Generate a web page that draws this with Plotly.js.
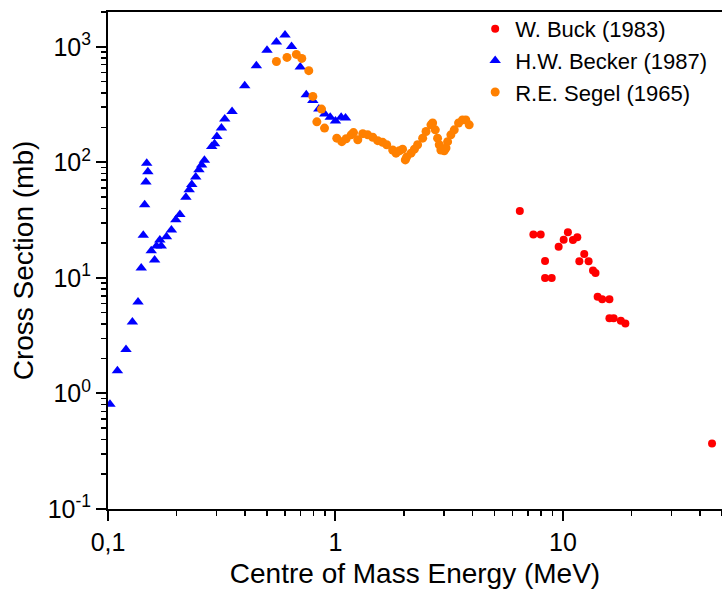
<!DOCTYPE html>
<html>
<head>
<meta charset="utf-8">
<script src="https://cdn.plot.ly/plotly-3.0.1.min.js"></script>
<style>html,body{margin:0;padding:0;background:#fff;}</style>
</head>
<body>
<div id="chart" style="width:722px;height:593px;"></div>
<script>
// W. Buck (1983)
const buckE = [6.46, 7.41, 7.98, 8.34, 8.34, 8.92, 9.57, 10.07, 10.51, 11.06, 11.56, 11.8, 12.4, 12.96, 13.55, 13.9, 14.2, 14.87, 16.0, 16.0, 16.7, 17.96, 18.8, 45.2];
const buckXS = [38.0, 23.7, 23.7, 14.0, 10.0, 10.0, 18.6, 21.4, 24.8, 21.3, 22.5, 13.9, 16.1, 13.9, 11.6, 11.0, 6.87, 6.53, 6.53, 4.47, 4.47, 4.26, 4.04, 0.369];

// H.W. Becker (1987)
const beckerE = [0.102, 0.110, 0.120, 0.128, 0.1355, 0.140, 0.1429, 0.1449, 0.1468, 0.148, 0.1497, 0.1549, 0.1603, 0.1634, 0.169, 0.1714, 0.1807, 0.190, 0.1987, 0.207, 0.220, 0.2274, 0.2335, 0.243, 0.251, 0.258, 0.2654, 0.2857, 0.294, 0.301, 0.3152, 0.326, 0.351, 0.399, 0.449, 0.500, 0.550, 0.600, 0.641, 0.700, 0.744, 0.795, 0.845, 0.897, 0.948, 1.0, 1.059, 1.107];
const beckerXS = [0.807, 1.57, 2.40, 4.15, 6.18, 12.2, 23.4, 43, 67.7, 98, 82.8, 17.2, 14.3, 18.9, 21.3, 18.9, 22.7, 26, 31.8, 35.3, 49.9, 57.8, 64.3, 74.5, 86.1, 94.6, 104, 137, 145, 167, 198, 237, 275, 460, 685, 931, 1101, 1265, 1007, 668, 385, 343, 289, 262, 246, 228, 246, 242];

// R.E. Segel (1965)
const segelE = [0.550, 0.612, 0.673, 0.711, 0.763, 0.795, 0.828, 0.868, 0.895, 1.013, 1.066, 1.114, 1.172, 1.2, 1.253, 1.318, 1.386, 1.458, 1.533, 1.612, 1.679, 1.784, 1.845, 1.909, 1.972, 2.027, 2.054, 2.148, 2.222, 2.296, 2.416, 2.50, 2.628, 2.673, 2.746, 2.810, 2.858, 2.905, 3.006, 3.06, 3.11, 3.215, 3.327, 3.475, 3.615, 3.74, 3.87];
const segelXS = [746, 809, 859, 793, 621, 372, 224, 289, 198, 162, 151, 160, 173, 181, 157, 177, 173, 165, 154, 149, 142, 128, 120, 126, 130, 105, 111, 120, 130, 142, 162, 185, 211, 219, 191, 162, 142, 128, 126, 133, 151, 173, 191, 219, 233, 233, 211];

// Axis ticks
const xTickVals = [0.1, 1, 10];
const xTickText = ['0,1', '1', '10'];
const yTickVals = [0.1, 1, 10, 100, 1000];
const yTickText = ['10<sup>-1</sup>', '10<sup>0</sup>', '10<sup>1</sup>', '10<sup>2</sup>', '10<sup>3</sup>'];

function minorTicks(lo, hi) {
  const out = [];
  for (let d = lo; d <= hi; d++) {
    for (let k = 2; k <= 9; k++) out.push(k * Math.pow(10, d));
  }
  return out;
}
const xMinor = minorTicks(-1, 1);
const yMinor = minorTicks(-1, 3);

const traces = [
  {x: buckE, y: buckXS, name: 'W. Buck (1983)', type: 'scatter', mode: 'markers',
   marker: {symbol: 'circle', size: 8, color: '#ff0000'}},
  {x: beckerE, y: beckerXS, name: 'H.W. Becker (1987)', type: 'scatter', mode: 'markers',
   marker: {symbol: 'triangle-up', size: 10, color: '#0000ff'}},
  {x: segelE, y: segelXS, name: 'R.E. Segel (1965)', type: 'scatter', mode: 'markers',
   marker: {symbol: 'circle', size: 9, color: '#ff8000'}}
];

const axisCommon = {
  type: 'log', showgrid: false, zeroline: false, showline: true,
  linecolor: '#000', linewidth: 2, ticks: 'outside', ticklen: 10, tickwidth: 2, tickcolor: '#000',
  tickmode: 'array', tickfont: {size: 25, color: '#000'}
};

const layout = {
  width: 722, height: 593,
  margin: {l: 108, r: 0, t: 12, b: 84},
  paper_bgcolor: '#fff', plot_bgcolor: '#fff',
  separators: ', ',
  font: {family: '"Liberation Sans", Arial, sans-serif', color: '#000'},
  showlegend: true,
  xaxis: Object.assign({}, axisCommon, {
    range: [-1, Math.log10(50)], tickvals: xTickVals, ticktext: xTickText, mirror: true,
    title: {text: 'Centre of Mass Energy (MeV)', font: {size: 28}, standoff: 8},
    minor: {tickmode: 'array', tickvals: xMinor, ticks: 'outside', ticklen: 5, tickwidth: 1.5, tickcolor: '#000', showgrid: false}
  }),
  yaxis: Object.assign({}, axisCommon, {
    range: [-1, Math.log10(2000)], tickvals: yTickVals, ticktext: yTickText,
    title: {text: 'Cross Section (mb)', font: {size: 28}, standoff: 6},
    minor: {tickmode: 'array', tickvals: yMinor, ticks: 'outside', ticklen: 5, tickwidth: 1.5, tickcolor: '#000', showgrid: false}
  }),
  legend: {x: 0.598, y: 1.008, xanchor: 'left', yanchor: 'top', font: {size: 22, color: '#000'},
           bgcolor: 'rgba(0,0,0,0)', tracegroupgap: 0}
};

Plotly.newPlot('chart', traces, layout, {displayModeBar: false, staticPlot: true});
</script>
</body>
</html>
